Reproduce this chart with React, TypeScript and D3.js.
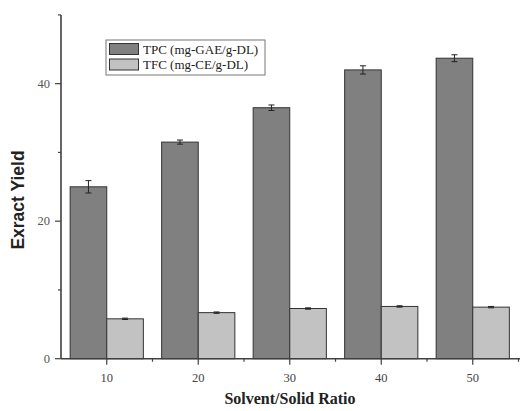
import React from 'react';
import * as d3 from 'd3';

const ratios = [10, 20, 30, 40, 50];
const tpc = [25.0, 31.5, 36.5, 42.0, 43.7];
const tpcErr = [0.9, 0.3, 0.4, 0.6, 0.5];
const tfc = [5.8, 6.7, 7.3, 7.6, 7.5];
const tfcErr = [0.1, 0.1, 0.1, 0.1, 0.1];
const majorY = [0, 20, 40];
const minorY = [10, 30, 50];
const minorX = [15, 25, 35, 45, 55];
const legendLabels = ['TPC (mg-GAE/g-DL)', 'TFC (mg-CE/g-DL)'];

const W = 520;
const H = 411;
const axisCol = '#404040';
const darkFill = '#808080';
const lightFill = '#c2c2c2';

export default function App() {
  const x = d3.scaleLinear().domain([5, 55]).range([61, 518.5]);
  const y = d3.scaleLinear().domain([0, 50]).range([358.7, 14.9]);
  const barW = x(10) - x(6); // ~36.6px per bar

  const errBar = (cx: number, v: number, e: number, key: string) => (
    <g key={key} stroke="#222" strokeWidth={1}>
      <line x1={cx} x2={cx} y1={y(v + e)} y2={y(v - e)} />
      <line x1={cx - 3} x2={cx + 3} y1={y(v + e)} y2={y(v + e)} />
      <line x1={cx - 3} x2={cx + 3} y1={y(v - e)} y2={y(v - e)} />
    </g>
  );

  return (
    <svg width={W} height={H} style={{ position: 'absolute', left: 0, top: 0, background: '#fff' }}>
      {/* bars */}
      {ratios.map((r, i) => (
        <g key={'b' + r}>
          <rect x={x(r) - barW} y={y(tpc[i])} width={barW} height={y(0) - y(tpc[i])}
            fill={darkFill} stroke="#333" strokeWidth={1} />
          <rect x={x(r)} y={y(tfc[i])} width={barW} height={y(0) - y(tfc[i])}
            fill={lightFill} stroke="#333" strokeWidth={1} />
          {errBar(x(r) - barW / 2, tpc[i], tpcErr[i], 'e1')}
          {errBar(x(r) + barW / 2, tfc[i], tfcErr[i], 'e2')}
        </g>
      ))}

      {/* y axis */}
      <line x1={61} x2={61} y1={y(50)} y2={y(0)} stroke={axisCol} strokeWidth={1.6} />
      {majorY.map((v) => (
        <g key={'my' + v}>
          <line x1={55} x2={61} y1={y(v)} y2={y(v)} stroke={axisCol} strokeWidth={1.2} />
          <text x={50} y={y(v) + 4} textAnchor="end" fontFamily="Liberation Serif" fontSize={12.5} fill="#555">{v}</text>
        </g>
      ))}
      {minorY.map((v) => (
        <line key={'ny' + v} x1={58} x2={61} y1={y(v)} y2={y(v)} stroke={axisCol} strokeWidth={1.2} />
      ))}

      {/* x axis */}
      <line x1={61} x2={W} y1={y(0)} y2={y(0)} stroke={axisCol} strokeWidth={1.6} />
      {ratios.map((r) => (
        <g key={'mx' + r}>
          <line x1={x(r)} x2={x(r)} y1={y(0)} y2={y(0) + 6} stroke={axisCol} strokeWidth={1.2} />
          <text x={x(r)} y={382} textAnchor="middle" fontFamily="Liberation Serif" fontSize={12.5} fill="#444">{r}</text>
        </g>
      ))}
      {minorX.map((r) => (
        <line key={'nx' + r} x1={x(r)} x2={x(r)} y1={y(0)} y2={y(0) + 3} stroke={axisCol} strokeWidth={1.2} />
      ))}

      {/* axis titles */}
      <text transform="translate(24,200) rotate(-90)" textAnchor="middle" fontFamily="Liberation Sans"
        fontWeight="bold" fontSize={17.5} fill="#222">Exract Yield</text>
      <text x={290} y={404} textAnchor="middle" fontFamily="Liberation Serif" fontWeight="bold" fontSize={16} fill="#222">
        Solvent/Solid Ratio
      </text>

      {/* legend */}
      <rect x={106} y={40} width={159} height={35} fill="#fff" stroke="#777" strokeWidth={1} />
      {legendLabels.map((l, i) => (
        <g key={l}>
          <rect x={109.5} y={43.5 + i * 15.5} width={29} height={11} fill={i === 0 ? darkFill : lightFill}
            stroke="#333" strokeWidth={1} />
          <text x={143} y={53.5 + i * 15.5} fontFamily="Liberation Serif" fontSize={13} fill="#222">{l}</text>
        </g>
      ))}
    </svg>
  );
}
